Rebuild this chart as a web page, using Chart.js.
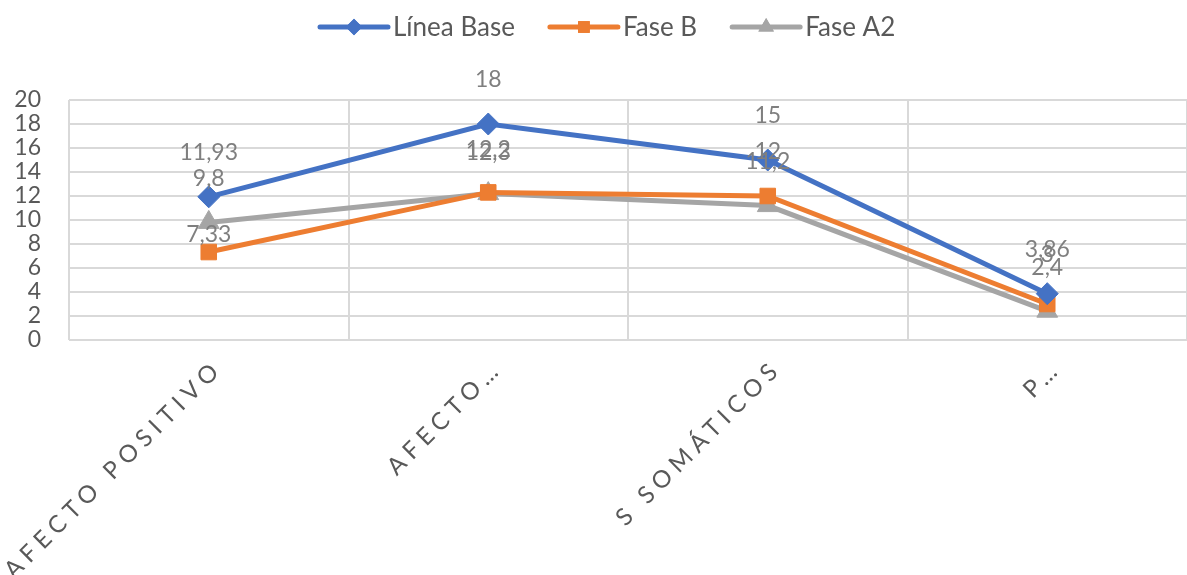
<!DOCTYPE html>
<html>
<head>
<meta charset="utf-8">
<script src="https://cdn.jsdelivr.net/npm/chart.js@4.4.0/dist/chart.umd.min.js"></script>
<style>
  body { margin: 0; background: #fff; }
  canvas { display: block; }
</style>
</head>
<body>
<canvas id="grafico" width="1187" height="575"></canvas>
<script>
// Datos
const categorias = ['AFECTO POSITIVO', 'AFECTO…', 'S SOMÁTICOS', 'P…'];
const lineaBase = [11.93, 18, 15, 3.86];
const faseB = [7.33, 12.3, 12, 3];
const faseA2 = [9.8, 12.2, 11.2, 2.4];
const ticksY = [0, 2, 4, 6, 8, 10, 12, 14, 16, 18, 20];

const FUENTE = 'Lato, "Noto Sans", sans-serif';
const GRIS_TEXTO = '#595959';
const GRIS_ETIQUETA = '#7f7f7f';

// formato con coma decimal
function formato(v) {
    return String(v).replace('.', ',');
}

// leyenda, etiquetas de datos y categorías al estilo Excel
const extrasExcel = {
    id: 'extrasExcel',
    afterDraw(chart) {
        const ctx = chart.ctx;
        const xs = chart.scales.x;

        // etiquetas de datos
        ctx.save();
        ctx.font = '23px ' + FUENTE;
        ctx.fillStyle = GRIS_ETIQUETA;
        ctx.textAlign = 'center';
        ctx.textBaseline = 'middle';
        chart.data.datasets.forEach((ds, i) => {
            chart.getDatasetMeta(i).data.forEach((pt, j) => {
                const desp = (ds.desplazamiento && ds.desplazamiento[j] != null) ? ds.desplazamiento[j] : 44;
                ctx.fillText(formato(ds.data[j]), pt.x, pt.y - desp);
            });
        });
        ctx.restore();

        // categorías giradas
        ctx.save();
        ctx.font = '24px ' + FUENTE;
        ctx.fillStyle = GRIS_TEXTO;
        ctx.letterSpacing = '6px';
        ctx.textAlign = 'right';
        ctx.textBaseline = 'middle';
        categorias.forEach((c, i) => {
            const x = xs.getPixelForValue(i) + 10;
            ctx.save();
            ctx.translate(x, chart.chartArea.bottom + 24);
            ctx.rotate(-Math.PI / 4);
            ctx.fillText(c, 0, 0);
            ctx.restore();
        });
        ctx.restore();

        // leyenda
        ctx.save();
        ctx.font = '26px ' + FUENTE;
        ctx.textBaseline = 'middle';
        const largoLinea = 68, hueco = 5, separacion = 35, y = 27;
        let x = 320;
        chart.data.datasets.forEach((ds) => {
            ctx.strokeStyle = ds.borderColor;
            ctx.lineWidth = 5;
            ctx.lineCap = 'round';
            ctx.beginPath();
            ctx.moveTo(x, y);
            ctx.lineTo(x + largoLinea, y);
            ctx.stroke();
            ctx.fillStyle = ds.borderColor;
            Chart.helpers.drawPoint(ctx, { pointStyle: ds.pointStyle, radius: ds.pointRadius * 0.75, rotation: 0, borderWidth: 0 }, x + largoLinea / 2, y);
            ctx.fill();
            ctx.fillStyle = GRIS_TEXTO;
            ctx.textAlign = 'left';
            ctx.fillText(ds.label, x + largoLinea + hueco, y + 1);
            x += largoLinea + hueco + ctx.measureText(ds.label).width + separacion;
        });
        ctx.restore();
    }
};

function serie(label, data, color, estilo, radio, extra) {
    return Object.assign({
        label: label,
        data: data,
        borderColor: color,
        backgroundColor: color,
        borderWidth: 5,
        pointStyle: estilo,
        pointRadius: radio,
        pointHoverRadius: radio,
        pointBorderWidth: 1,
        tension: 0
    }, extra || {});
}

new Chart(document.getElementById('grafico').getContext('2d'), {
    type: 'line',
    data: {
        labels: categorias,
        datasets: [
            serie('Línea Base', lineaBase, '#4472c4', 'rectRot', 11),
            serie('Fase B', faseB, '#ed7d31', 'rect', 11, { desplazamiento: [17, 40, 44, 49] }),
            serie('Fase A2', faseA2, '#a5a5a5', 'triangle', 12)
        ]
    },
    options: {
        responsive: false,
        animation: false,
        layout: { autoPadding: false, padding: { top: 100, bottom: 235, left: 0, right: 0 } },
        plugins: {
            legend: { display: false },
            tooltip: { enabled: false }
        },
        scales: {
            x: {
                offset: true,
                grid: { offset: true, color: '#d9d9d9', lineWidth: 2, drawTicks: false },
                border: { display: false },
                ticks: { display: false }
            },
            y: {
                min: 0,
                max: 20,
                afterFit(scale) { scale.width = 69; },
                afterBuildTicks(scale) { scale.ticks = ticksY.map(v => ({ value: v })); },
                grid: { color: '#d9d9d9', lineWidth: 2, drawTicks: false },
                border: { display: false },
                ticks: {
                    autoSkip: false,
                    padding: 28,
                    color: GRIS_TEXTO,
                    font: { family: FUENTE, size: 23 }
                }
            }
        }
    },
    plugins: [extrasExcel]
});
</script>
</body>
</html>
